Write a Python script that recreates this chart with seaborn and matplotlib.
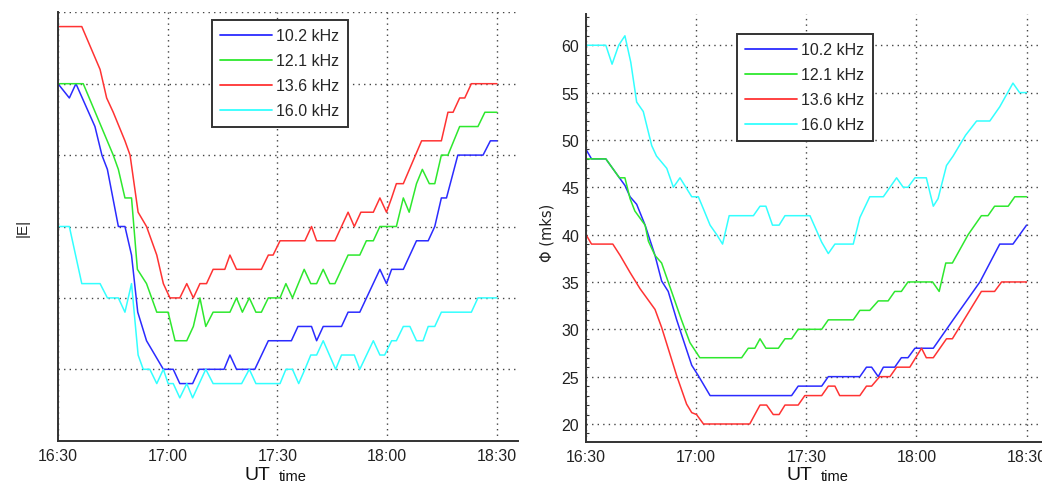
import numpy as np
import pandas as pd
import matplotlib
matplotlib.use("Agg")
import matplotlib.pyplot as plt
from matplotlib.ticker import MultipleLocator
from matplotlib.lines import Line2D
import seaborn as sns

# ---------------- data (time in minutes after 16:30 UT) ----------------
series_names = ["10.2 kHz", "12.1 kHz", "13.6 kHz", "16.0 kHz"]
series_colors = ["#2b2bff", "#2ee82e", "#ff3333", "#33ffff"]
tick_minutes = [0, 30, 60, 90, 120]
tick_labels = ["16:30", "17:00", "17:30", "18:00", "18:30"]

# |E| panel (arbitrary units, grid every 5)
e_t_blue = [0, 3.1, 4.9, 10.1, 12, 13.5, 16.5, 18.3, 20.1, 21.8, 24.2, 28.8, 31.5, 33.3, 36.8,
            38.6, 45.4, 47, 48.8, 53.8, 57.5, 63.8, 65.6, 69.3, 70.7, 72.5, 77.5, 79.3, 82.5,
            88, 89.8, 91.2, 94.4, 98, 101.2, 103, 104.8, 106.2, 109.3, 116.2, 118.2, 120]
e_v_blue = [25, 24, 25, 22, 20, 19, 15, 15, 13, 9, 7, 5, 5, 4, 4,
            5, 5, 6, 5, 5, 7, 7, 8, 8, 7, 8, 8, 9, 9,
            12, 11, 12, 12, 14, 14, 15, 17, 17, 20, 20, 21, 21]
e_t_green = [0, 6.9, 15.1, 16.5, 18.3, 20.1, 21.7, 24.2, 27, 30.1, 32, 35.2, 37, 38.8, 40.4,
             42.4, 47, 48.8, 50.4, 52.3, 54.1, 55.6, 57.5, 60.7, 62.3, 64.1, 67.3, 69.1, 70.7,
             72.5, 74.3, 75.7, 79.3, 82.5, 84.3, 86.2, 88, 92.5, 94.4, 96, 98, 99.6, 101.5,
             103, 104.8, 106.6, 109.8, 114.8, 116.7, 120]
e_v_green = [25, 25, 20, 19, 17, 17, 12, 11, 9, 9, 7, 7, 8, 10, 8,
             9, 9, 10, 9, 10, 9, 9, 10, 10, 11, 10, 12, 11, 11,
             12, 11, 11, 13, 13, 14, 14, 15, 15, 17, 16, 18, 19, 18,
             18, 20, 20, 22, 22, 23, 23]
e_t_red = [0, 6.5, 11.5, 13.3, 15.1, 18.3, 19.7, 21.9, 24.2, 27, 28.8, 30.6, 33.3, 35.2, 37,
           38.8, 40.6, 42.4, 45.6, 47, 48.8, 55.6, 57.5, 58.8, 60.7, 67.5, 69.3, 70.7, 75.7,
           77.5, 79.3, 81, 82.8, 86.2, 88, 89.8, 91.2, 92.5, 94.4, 99.4, 104.8, 106.6, 108,
           109.8, 111.2, 113, 120]
e_v_red = [29, 29, 26, 24, 23, 21, 20, 16, 15, 13, 11, 10, 10, 11, 10,
           11, 11, 12, 12, 13, 12, 12, 13, 13, 14, 14, 15, 14, 14,
           15, 16, 15, 16, 16, 17, 16, 17, 18, 18, 21, 21, 23, 23,
           24, 24, 25, 25]
e_t_cyan = [0, 3.1, 6.5, 11.5, 13.5, 16.5, 18.3, 20.1, 21.9, 23.3, 25.1, 27, 28.8, 30.1, 31.5,
            33.3, 35.2, 36.8, 38.6, 40.4, 42.4, 50.2, 52.3, 54.1, 60.7, 62.3, 64.1, 65.8, 67.5,
            69.1, 70.7, 72.5, 75.9, 77.5, 81, 82.5, 86.2, 88, 89.3, 91.2, 92.5, 94.4, 96.2,
            98, 99.8, 101.2, 103, 104.8, 113, 114.8, 120]
e_v_cyan = [15, 15, 11, 11, 10, 10, 9, 11, 6, 5, 5, 4, 5, 4, 4,
            3, 4, 3, 4, 5, 4, 4, 5, 4, 4, 5, 5, 4, 5,
            6, 6, 7, 5, 6, 6, 5, 7, 6, 6, 7, 7, 8, 8,
            7, 7, 8, 8, 9, 9, 10, 10]

# Phase panel (mks)
p_t_blue = [0, 1.5, 5.4, 9.1, 10.6, 12, 13.8, 16.1, 18.8, 20.6, 22.4, 24.7, 27, 28.8, 30.6,
            33.8, 56, 57.8, 64.2, 66, 74.6, 76.4, 77.8, 79.6, 81, 84.1, 85.9, 87.7, 89.6,
            94.6, 100, 107.3, 112.7, 116.3, 120]
p_v_blue = [49, 48, 48, 46, 45.2, 44, 43.2, 41, 37.8, 35.1, 34, 31, 28.3, 26.2, 25.1,
            23, 23, 24, 24, 25, 25, 26, 26, 25, 26, 26, 27, 27, 28,
            28, 31, 35, 39, 39, 41]
p_t_green = [0, 5.4, 9.1, 10.6, 12, 13.3, 16.1, 17, 18.8, 20.6, 22.4, 26, 28.3, 31, 42.4,
             44.2, 46, 47.4, 49, 52.4, 54.2, 56, 57.8, 64.2, 66, 72.8, 74.6, 77.3, 79.6, 82.3,
             84.1, 85.9, 87.7, 94.4, 96.2, 98, 99.8, 104.1, 107.7, 109.5, 111.3, 115, 116.8, 120]
p_v_green = [48, 48, 46, 46, 43.8, 42.5, 41, 39.3, 37.8, 37, 35, 31, 28.6, 27, 27,
             28, 28, 29, 28, 28, 29, 29, 30, 30, 31, 31, 32, 32, 33, 33,
             34, 34, 35, 35, 34, 37, 37, 40, 42, 42, 43, 43, 44, 44]
p_t_red = [0, 1.5, 7.3, 9.3, 12, 14.7, 18.8, 20.6, 24.7, 27.4, 28.8, 30.1, 32, 44.6, 47.4,
           49.2, 51, 52.6, 54.2, 57.8, 59.6, 64.2, 66, 67.8, 69.1, 74.6, 76.4, 77.8, 80, 82.8,
           84.6, 88.2, 91.4, 92.7, 94.6, 98.2, 99.8, 107.7, 111.3, 113.2, 120]
p_v_red = [40, 39, 39, 37.8, 36, 34.3, 32.1, 30.2, 25.1, 22.1, 21.2, 21, 20, 20, 22,
           22, 21, 21, 22, 22, 23, 23, 24, 24, 23, 23, 24, 24, 25, 25,
           26, 26, 28, 27, 27, 29, 29, 34, 34, 35, 35]
p_t_cyan = [0, 5.4, 7.1, 8.9, 10.6, 12.2, 13.8, 15.6, 17.9, 19.2, 22, 23.8, 25.6, 28.8, 30.6,
            32, 33.8, 35.6, 37.2, 39, 45.6, 47.4, 49, 50.8, 52.6, 54.2, 61, 64.2, 66, 67.8,
            72.8, 74.6, 77.3, 81, 82.8, 84.6, 86.4, 87.7, 89.6, 92.7, 94.6, 95.9, 98.2, 100,
            103.4, 106.4, 110, 112.7, 116.3, 118.1, 120]
p_v_cyan = [60, 60, 58, 60, 61, 58.2, 54, 53, 49.4, 48.3, 47, 45, 46, 44, 44,
            42.7, 41, 40, 39, 42, 42, 43, 43, 41, 41, 42, 42, 39.2, 38, 39,
            39, 41.8, 44, 44, 45, 46, 45, 45, 46, 46, 43, 43.8, 47.3, 48.3,
            50.5, 52, 52, 53.5, 56, 55, 55]


def long_df(ts, vs):
    frames = [pd.DataFrame({"t": t, "v": v, "f": n}) for t, v, n in zip(ts, vs, series_names)]
    return pd.concat(frames, ignore_index=True)


df_e = long_df([e_t_blue, e_t_green, e_t_red, e_t_cyan], [e_v_blue, e_v_green, e_v_red, e_v_cyan])
df_p = long_df([p_t_blue, p_t_green, p_t_red, p_t_cyan], [p_v_blue, p_v_green, p_v_red, p_v_cyan])

# ---------------- figure ----------------
sns.set_theme(style="white")
plt.rcParams["font.family"] = ["Liberation Sans", "DejaVu Sans"]
W, H = 1042, 485
fig = plt.figure(figsize=(W / 100, H / 100), dpi=100)
fig.patch.set_facecolor("white")


def frac(l, b_px, w, h):
    return [l / W, (H - b_px) / H, w / W, h / H]


axL = fig.add_axes(frac(58, 441.7, 460, 428.4))
axR = fig.add_axes(frac(586, 442.7, 460, 427.7))
palette = dict(zip(series_names, series_colors))

for ax, df in [(axL, df_e), (axR, df_p)]:
    sns.lineplot(data=df, x="t", y="v", hue="f", palette=palette, estimator=None,
                 linewidth=1.1, ax=ax, legend=False)
    ax.set_facecolor("white")
    ax.set_xticks(tick_minutes)
    ax.set_xticklabels(tick_labels)
    ax.grid(True, linestyle=(0, (1, 3)), color="#444444", linewidth=1.0)
    ax.set_axisbelow(True)
    for s in ["top", "right"]:
        ax.spines[s].set_visible(False)
    for s in ["left", "bottom"]:
        ax.spines[s].set_color("#333333")
        ax.spines[s].set_linewidth(1.4)
    ax.tick_params(axis="both", direction="in", length=5, width=1.0, color="#333333",
                   labelsize=11.5, labelcolor="#222222", pad=5)
    ax.set_xlabel("")
    ax.set_ylabel("")

axL.set_xlim(0, 125.75)
axL.set_ylim(0, 30)
axL.set_yticks([0, 5, 10, 15, 20, 25, 30])
axL.set_yticklabels([])

axR.set_xlim(0, 125.3)
axR.set_ylim(18.13, 63.3)
axR.set_yticks([20, 25, 30, 35, 40, 45, 50, 55, 60])
axR.yaxis.set_minor_locator(MultipleLocator(1))
axR.tick_params(axis="y", which="minor", direction="in", length=2.5, width=0.8, color="#333333", left=True)
axR.tick_params(axis="y", which="major", pad=5)

# axis labels
fig.text(23 / W, 1 - 228 / H, "|E|", rotation=90, ha="center", va="center", fontsize=11, color="#222222")
fig.text(547 / W, 1 - 233 / H, "Φ (mks)", rotation=90, ha="center", va="center", fontsize=10.5,
         color="#222222", family=["DejaVu Sans"])
for x_ut, x_time in [(245, 279), (787, 821)]:
    fig.text(x_ut / W, 0.5 / H, "UT", ha="left", va="bottom", fontsize=14, color="#111111")
    fig.text(x_time / W, 0.5 / H, "time", ha="left", va="bottom", fontsize=10.5, color="#111111")

# legends
handles = [Line2D([0], [0], color=c, linewidth=1.3) for c in series_colors]
for ax, (lx, ly) in [(axL, (211.7, 20.7)), (axR, (736.7, 34.7))]:
    leg = ax.legend(handles, series_names, loc="upper left",
                    bbox_to_anchor=(lx / W, 1 - ly / H), bbox_transform=fig.transFigure,
                    fontsize=11.5, frameon=True, fancybox=False, framealpha=1.0,
                    handlelength=3.2, handletextpad=0.3, labelspacing=0.62,
                    borderpad=0.55, borderaxespad=0.0)
    fr = leg.get_frame()
    fr.set_edgecolor("#333333")
    fr.set_linewidth(1.4)
    fr.set_facecolor("white")

fig.savefig("out.png", dpi=100, facecolor="white")
